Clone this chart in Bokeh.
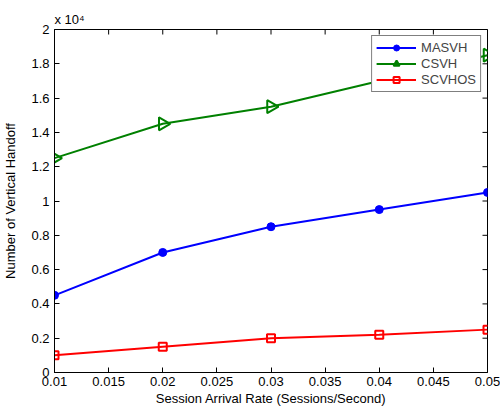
import math
from bokeh.plotting import figure
from bokeh.models import FixedTicker, Range1d
from bokeh.embed import file_html
from bokeh.resources import INLINE

rates = [0.01, 0.02, 0.03, 0.04, 0.05]
masvh = [4500, 7000, 8500, 9500, 10500]
csvh = [12500, 14500, 15500, 17000, 18500]
scvhos = [1000, 1500, 2000, 2200, 2500]

x_ticks = [0.01, 0.015, 0.02, 0.025, 0.03, 0.035, 0.04, 0.045, 0.05]
x_tick_labels = ["0.01", "0.015", "0.02", "0.025", "0.03", "0.035", "0.04", "0.045", "0.05"]
y_ticks = [0, 2000, 4000, 6000, 8000, 10000, 12000, 14000, 16000, 18000, 20000]
y_tick_labels = ["0", "0.2", "0.4", "0.6", "0.8", "1", "1.2", "1.4", "1.6", "1.8", "2"]
x_min, x_max = 0.01, 0.05
y_min, y_max = 0, 20000

FONT = "Liberation Sans"
FS = "13px"

p = figure(width=500, height=409, output_backend="svg", toolbar_location=None,
           x_range=Range1d(x_min, x_max), y_range=Range1d(y_min, y_max),
           title="x 10\u2074",
           min_border_left=53, min_border_right=13, min_border_top=29, min_border_bottom=37)
p.xgrid.visible = False
p.ygrid.visible = False
p.outline_line_color = "black"
p.outline_line_width = 1
p.background_fill_color = "white"
p.border_fill_color = "white"

p.title.align = "left"
p.title.text_font = FONT
p.title.text_font_size = FS
p.title.text_font_style = "normal"
p.title.text_color = "black"
p.title.standoff = 5
p.title.offset = 0

def style_axis(ax, ticks, labels):
    ax.ticker = FixedTicker(ticks=ticks)
    ax.major_label_overrides = {t: l for t, l in zip(ticks, labels)}
    ax.major_tick_in = 5
    ax.major_tick_out = 0
    ax.minor_tick_line_color = None
    ax.axis_line_color = "black"
    ax.major_tick_line_color = "black"
    ax.major_label_text_font = FONT
    ax.major_label_text_font_size = FS
    ax.major_label_text_color = "black"
    ax.axis_label_text_font = FONT
    ax.axis_label_text_font_size = FS
    ax.axis_label_text_font_style = "normal"
    ax.axis_label_text_color = "black"

style_axis(p.xaxis[0], x_ticks, x_tick_labels)
style_axis(p.yaxis[0], y_ticks, y_tick_labels)
p.xaxis[0].axis_label = "Session Arrival Rate (Sessions/Second)"
p.yaxis[0].axis_label = "Number of Vertical Handoff"
p.xaxis[0].major_label_standoff = 4
p.xaxis[0].axis_label_standoff = 2
p.yaxis[0].major_label_standoff = 5
p.yaxis[0].axis_label_standoff = 10

# inward ticks on the top and right frame edges (MATLAB box style)
p.scatter(x_ticks, [y_max] * len(x_ticks), marker="dash", size=10, angle=math.pi / 2,
          line_color="black", line_width=1)
p.scatter([x_max] * len(y_ticks), y_ticks, marker="dash", size=10, angle=0,
          line_color="black", line_width=1)

p.line(rates, masvh, color="#0000ff", line_width=2, legend_label="MASVH")
p.scatter(rates, masvh, marker="circle", size=8, color="#0000ff", legend_label="MASVH")
p.line(rates, csvh, color="#008000", line_width=2, legend_label="CSVH")
p.scatter(rates, csvh, marker="triangle", angle=-math.pi / 2, size=13, line_color="#008000",
          fill_color=None, line_width=2, legend_label="CSVH")
p.line(rates, scvhos, color="#ff0000", line_width=2, legend_label="SCVHOS")
p.scatter(rates, scvhos, marker="square", size=8, line_color="#ff0000",
          fill_color=None, line_width=2, legend_label="SCVHOS")

lg = p.legend[0]
lg.location = "top_right"
lg.border_line_color = "black"
lg.border_line_width = 1
lg.background_fill_color = "white"
lg.background_fill_alpha = 1
lg.label_text_font = FONT
lg.label_text_font_size = FS
lg.glyph_width = 40
lg.glyph_height = 15
lg.label_height = 15
lg.label_standoff = 5
lg.spacing = 1
lg.padding = 4
lg.margin = 6

open("out.html", "w").write(file_html(p, INLINE))
